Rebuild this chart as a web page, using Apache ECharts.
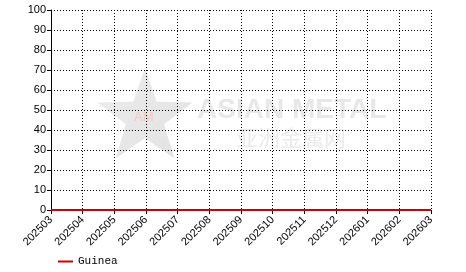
<!DOCTYPE html>
<html>
<head>
<meta charset="utf-8">
<script src="https://cdn.jsdelivr.net/npm/echarts@6/dist/echarts.min.js"></script>
<style>html,body{margin:0;padding:0;background:#fff}#c{width:466px;height:272px}</style>
</head>
<body>
<div id="c"></div>
<script>
var categories = ['202503','202504','202505','202506','202507','202508','202509','202510','202511','202512','202601','202602','202603'];
var guineaValues = [0,0,0,0,0,0,0,0,0,0,0,0,0];
var seriesName = 'Guinea';
var yMin = 0, yMax = 100, yInterval = 10;

function starPoints(cx, cy, ro, ri) {
  var pts = [];
  for (var i = 0; i < 10; i++) {
    var a = -Math.PI / 2 + i * Math.PI / 5;
    var r = i % 2 === 0 ? ro : ri;
    pts.push([cx + r * Math.cos(a), cy + r * Math.sin(a)]);
  }
  return pts;
}

var chart = echarts.init(document.getElementById('c'), null, {renderer: 'canvas'});
chart.setOption({
  animation: false,
  backgroundColor: '#fff',
  grid: {left: 51, right: 35, top: 10, bottom: 62, containLabel: false},
  graphic: [
    {type: 'polygon', z: 0, silent: true, shape: {points: starPoints(145, 118, 50, 20)},
     style: {fill: new echarts.graphic.LinearGradient(0, 0, 1, 1, [{offset: 0, color: '#ececec'}, {offset: 1, color: '#e2e2e2'}])}},
    {type: 'text', z: 0, silent: true, left: 134, top: 111,
     style: {text: 'AM', fill: '#f7c6c6', font: '13px "Liberation Sans", Arial, sans-serif'}},
    {type: 'text', z: 0, silent: true, left: 197, top: 96,
     style: {text: 'ASIAN METAL', fill: '#e8e8e8', font: 'bold 28px "Liberation Sans", Arial, sans-serif'}},
    {type: 'text', z: 0, silent: true, left: 236, top: 127,
     style: {text: '亚洲金属网', fill: '#ebebeb', font: '22px "Noto Sans CJK SC", sans-serif'}}
  ],
  legend: {
    left: 58, top: 256, padding: 0,
    icon: 'rect', itemWidth: 15, itemHeight: 2, itemGap: 10,
    textStyle: {fontFamily: '"Liberation Mono", "DejaVu Sans Mono", monospace', fontSize: 11, color: '#000'},
    data: [seriesName]
  },
  xAxis: {
    type: 'category',
    data: categories,
    boundaryGap: false,
    axisLine: {lineStyle: {color: '#000', width: 1}},
    axisTick: {show: true, length: 4, alignWithLabel: true, lineStyle: {color: '#000'}},
    axisLabel: {rotate: 45, interval: 0, margin: 8, color: '#000', fontSize: 11, fontFamily: '"Liberation Sans", Arial, sans-serif'},
    splitLine: {show: true, lineStyle: {color: '#000', type: [1, 2], width: 1}}
  },
  yAxis: {
    type: 'value',
    min: yMin, max: yMax, interval: yInterval,
    axisLine: {show: true, lineStyle: {color: '#000', width: 1}},
    axisTick: {show: true, length: 4, lineStyle: {color: '#000'}},
    axisLabel: {margin: 5, color: '#000', fontSize: 11, fontFamily: '"Liberation Sans", Arial, sans-serif'},
    splitLine: {show: true, lineStyle: {color: '#000', type: [1, 2], width: 1}}
  },
  series: [{
    name: seriesName,
    type: 'line',
    data: guineaValues,
    symbol: 'none',
    lineStyle: {color: '#cc0000', width: 2},
    itemStyle: {color: '#cc0000'},
    z: 5
  }]
});
</script>
</body>
</html>
